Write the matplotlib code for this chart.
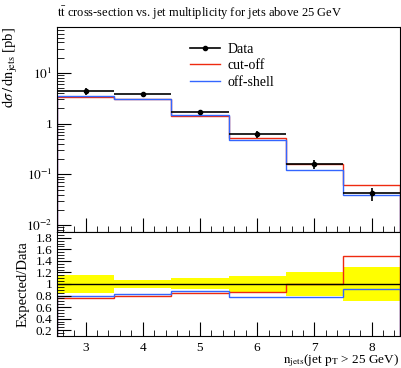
import matplotlib
matplotlib.use("Agg")
import matplotlib.pyplot as plt
import numpy as np
from matplotlib.ticker import FixedLocator, MultipleLocator, FuncFormatter
from matplotlib.lines import Line2D

# bins in jet multiplicity
edges = [2.5, 3.5, 4.5, 5.5, 6.5, 7.5, 8.5]
njets = [3, 4, 5, 6, 7, 8]

# cross-section [pb]
data = [4.40, 3.78, 1.70, 0.615, 0.160, 0.0423]
data_relerr = [0.15, 0.07, 0.095, 0.145, 0.20, 0.29]
cutoff = [3.32, 3.00, 1.43, 0.525, 0.160, 0.0628]
offshell = [3.46, 3.12, 1.48, 0.477, 0.124, 0.0386]

plt.rcParams['font.family'] = ['Liberation Serif', 'DejaVu Serif']
plt.rcParams['mathtext.fontset'] = 'stix'
plt.rcParams['font.size'] = 10

RED = '#ee2a10'
BLUE = '#3366ff'

fig = plt.figure(figsize=(4.01, 3.68), dpi=100)
ax = fig.add_axes([0.142, 0.3696, 0.856, 0.557])
rax = fig.add_axes([0.142, 0.087, 0.856, 0.2826], sharex=ax)

data = np.array(data)
err = np.array(data_relerr)

# main panel
ax.stairs(cutoff, edges, color=RED, lw=1.0)
ax.stairs(offshell, edges, color=BLUE, lw=1.0)
ax.errorbar(njets, data, xerr=0.5, yerr=data * err, fmt='o', color='black',
            ms=3, lw=1.2, capsize=0)
ax.set_yscale('log')
ax.set_ylim(0.0073, 80.7)
ax.set_xlim(2.5, 8.5)
ax.set_ylabel(r'$\mathrm{d}\sigma\,/\,\mathrm{dn_{jets}}$ [pb]', loc='top', fontsize=10.5)
ax.set_title(r'$\mathrm{t\bar{t}}$ cross-section vs. jet multiplicity for jets above 25 GeV',
             loc='left', fontsize=9, pad=7)


def logfmt(v, pos):
    e = int(round(np.log10(v)))
    if e == 0:
        return '1'
    return r'$10^{%d}$' % e


ax.yaxis.set_major_formatter(FuncFormatter(logfmt))
ax.tick_params(axis='both', which='both', direction='in', labelsize=9.5)
ax.tick_params(axis='y', which='major', length=10)
ax.tick_params(axis='y', which='minor', length=5)
ax.tick_params(axis='x', which='major', length=10, labelbottom=False)
ax.tick_params(axis='x', which='minor', length=4)
ax.xaxis.set_major_locator(FixedLocator(njets))
ax.xaxis.set_minor_locator(MultipleLocator(0.2))

handles = [
    Line2D([], [], color='black', marker='o', ms=3, lw=1.2),
    Line2D([], [], color=RED, lw=1.0),
    Line2D([], [], color=BLUE, lw=1.0),
]
ax.legend(handles, ['Data', 'cut-off', 'off-shell'], loc='upper left',
          bbox_to_anchor=(0.35, 0.985), frameon=False, handlelength=2.2,
          handletextpad=0.5, labelspacing=0.25, fontsize=10)

# ratio panel
rcut = np.array(cutoff) / data
roff = np.array(offshell) / data
rax.stairs(1 + err, edges, baseline=1 - err, fill=True, color='#ffff00', lw=0)
rax.axhline(1.0, color='black', lw=1.0)
rax.stairs(rcut, edges, color=RED, lw=1.0)
rax.stairs(roff, edges, color=BLUE, lw=1.0)
rax.set_ylim(0.1, 1.9)
rax.set_xlim(2.5, 8.5)
rax.yaxis.set_major_locator(FixedLocator([0.2, 0.4, 0.6, 0.8, 1.0, 1.2, 1.4, 1.6, 1.8]))
rax.yaxis.set_minor_locator(MultipleLocator(0.05))
rax.yaxis.set_major_formatter(FuncFormatter(lambda v, p: '%g' % v))
rax.tick_params(axis='both', which='both', direction='in', labelsize=9.5)
rax.tick_params(axis='both', which='major', length=10)
rax.tick_params(axis='y', which='minor', length=5)
rax.tick_params(axis='x', which='minor', length=4)
rax.tick_params(axis='x', which='major', pad=4)
rax.set_ylabel('Expected/Data', fontsize=10.5)
rax.set_xlabel(r'$\mathrm{n_{jets}}$(jet $\mathrm{p_T}$ > 25 GeV)', loc='right', fontsize=9.5)

fig.align_ylabels([ax, rax])
rax.xaxis.set_label_coords(0.995, -0.16)
fig.savefig('out.png', dpi=100)
